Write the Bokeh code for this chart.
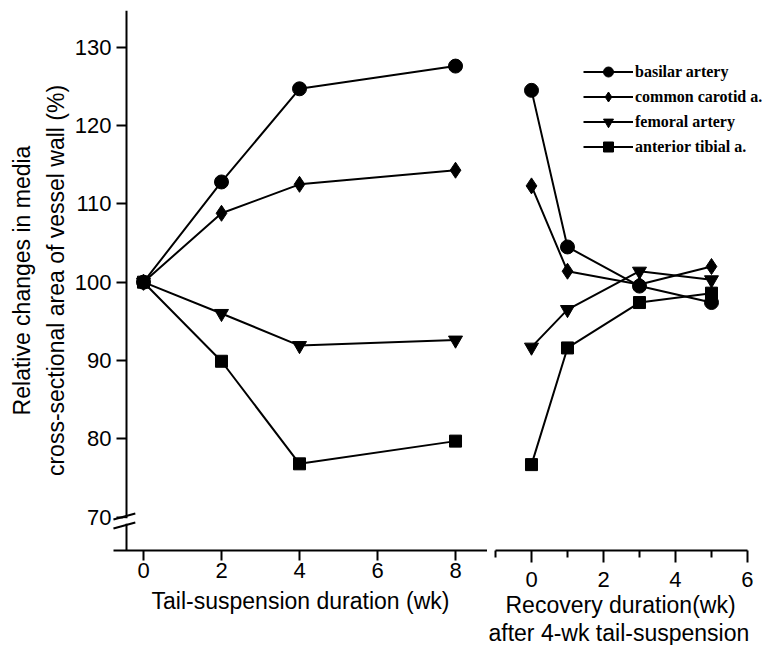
from bokeh.plotting import figure
from bokeh.models import Range1d, FixedTicker, Title, Legend, LegendItem, LinearAxis
from bokeh.layouts import row
from bokeh.embed import file_html
from bokeh.resources import INLINE

# ---------------- data ----------------
SERIES = ["basilar artery", "common carotid a.", "femoral artery", "anterior tibial a."]
MARKERS = ["circle", "diamond", "inverted_triangle", "square"]
MARKER_SIZES = [14, 16, 14, 12]

SUSP_WEEKS = [0, 2, 4, 8]
basilar_susp = [100, 112.8, 124.7, 127.6]
carotid_susp = [100, 108.8, 112.5, 114.3]
femoral_susp = [100, 96.0, 91.9, 92.6]
tibial_susp = [100, 89.9, 76.8, 79.7]

RECOV_WEEKS = [0, 1, 3, 5]
basilar_recov = [124.5, 104.5, 99.5, 97.4]
carotid_recov = [112.3, 101.4, 99.7, 102.0]
femoral_recov = [91.7, 96.5, 101.4, 100.3]
tibial_recov = [76.7, 91.6, 97.4, 98.6]

Y_TICKS = [70, 80, 90, 100, 110, 120, 130]
SUSP_TICKS = [0, 2, 4, 6, 8]
RECOV_TICKS = [0, 2, 4, 6]
RECOV_MINOR = [-1, 1, 3, 5]

# axis-break decoration (value space)
BREAK_X0 = [-0.77, -0.77]
BREAK_X1 = [-0.21, -0.21]
BREAK_Y0 = [69.69, 68.54]
BREAK_Y1 = [70.46, 69.31]

susp_series = [basilar_susp, carotid_susp, femoral_susp, tibial_susp]
recov_series = [basilar_recov, carotid_recov, femoral_recov, tibial_recov]

SANS = "Liberation Sans"
TITLE_SIZE = "23px"
yr = Range1d(65.73, 134.7)


def style_xaxis(ax, ticks, minor, tick_out, minor_out, standoff, label_standoff):
    ax.ticker = FixedTicker(ticks=ticks, minor_ticks=minor)
    ax.axis_line_width = 2
    ax.axis_line_color = "black"
    ax.major_tick_line_width = 2
    ax.major_tick_line_color = "black"
    ax.minor_tick_line_width = 2
    ax.minor_tick_line_color = "black"
    ax.major_tick_in = 0
    ax.major_tick_out = tick_out
    ax.minor_tick_in = 0
    ax.minor_tick_out = minor_out
    ax.major_label_text_font = SANS
    ax.major_label_text_font_size = "22px"
    ax.major_label_text_color = "black"
    ax.major_label_standoff = standoff
    ax.axis_label_text_font = SANS
    ax.axis_label_text_font_size = TITLE_SIZE
    ax.axis_label_text_font_style = "normal"
    ax.axis_label_text_color = "black"
    ax.axis_label_standoff = label_standoff


def side_title(text, standoff, align="center", offset=0):
    return Title(text=text, align=align, text_font=SANS, text_font_size=TITLE_SIZE,
                 text_font_style="normal", text_color="black",
                 standoff=standoff, offset=offset)


# ---------------- left panel ----------------
p1 = figure(frame_width=374, frame_height=540,
            x_range=Range1d(-0.769, 8.82), y_range=yr,
            output_backend="svg", toolbar_location=None,
            min_border_left=113, min_border_right=0,
            min_border_top=10, min_border_bottom=0)
p1.outline_line_color = None
p1.grid.visible = False
p1.background_fill_color = "white"
p1.border_fill_color = "white"

style_xaxis(p1.xaxis[0], SUSP_TICKS, [], 10, 0, 2, 7)
p1.xaxis.axis_label = "Tail-suspension duration (wk)"

# labels-only y axis at the frame edge
ya = p1.yaxis[0]
ya.ticker = FixedTicker(ticks=Y_TICKS, minor_ticks=[])
ya.axis_line_color = None
ya.major_tick_line_color = None
ya.minor_tick_line_color = None
ya.major_tick_in = 0
ya.major_tick_out = 0
ya.minor_tick_out = 0
ya.major_label_text_font = SANS
ya.major_label_text_font_size = "22px"
ya.major_label_text_color = "black"
ya.major_label_standoff = 2

# axis line + ticks at the position of the original axis (no labels)
yline = LinearAxis(ticker=FixedTicker(ticks=Y_TICKS, minor_ticks=[]),
                   fixed_location=-0.44,
                   axis_line_width=2, axis_line_color="black",
                   major_tick_line_width=2, major_tick_line_color="black",
                   major_tick_in=0, major_tick_out=10, minor_tick_out=0,
                   major_label_text_color=None, major_label_standoff=0)
p1.add_layout(yline, "left")

p1.add_layout(side_title("cross-sectional area of vessel wall (%)", 6), "left")
p1.add_layout(side_title("Relative changes in media", 6), "left")

for vals, mk, ms in zip(susp_series, MARKERS, MARKER_SIZES):
    p1.line(SUSP_WEEKS, vals, line_color="black", line_width=2)
    p1.scatter(SUSP_WEEKS, vals, marker=mk, size=ms, fill_color="black", line_color="black")

# axis break
p1.quad(left=-0.52, right=-0.36, bottom=69.15, top=69.85,
        fill_color="white", line_color=None, level="overlay")
p1.segment(x0=BREAK_X0, y0=BREAK_Y0, x1=BREAK_X1, y1=BREAK_Y1,
           line_color="black", line_width=2, level="overlay")

# ---------------- right panel ----------------
p2 = figure(frame_width=272, frame_height=540,
            x_range=Range1d(-1, 6.556), y_range=yr,
            y_axis_location=None,
            output_backend="svg", toolbar_location=None,
            min_border_left=8, min_border_right=0,
            min_border_top=10, min_border_bottom=0)
p2.outline_line_color = None
p2.grid.visible = False
p2.background_fill_color = "white"
p2.border_fill_color = "white"

style_xaxis(p2.xaxis[0], RECOV_TICKS, RECOV_MINOR, 12, 7, 9, 0)
p2.xaxis.bounds = (-1, 6)
p2.add_layout(side_title("Recovery duration(wk)", 0, "left", 10), "below")
p2.add_layout(side_title("after 4-wk tail-suspension", 0, "left", -7), "below")

items = []
for name, vals, mk, ms in zip(SERIES, recov_series, MARKERS, MARKER_SIZES):
    lr = p2.line(RECOV_WEEKS, vals, line_color="black", line_width=2)
    sr = p2.scatter(RECOV_WEEKS, vals, marker=mk, size=ms, fill_color="black", line_color="black")
    items.append(LegendItem(label=name, renderers=[lr, sr]))

legend = Legend(items=items, location=(88, 391),
                glyph_width=50, glyph_height=25, spacing=0,
                label_standoff=2, padding=0, margin=0,
                border_line_color=None, background_fill_alpha=0,
                label_text_font="Liberation Serif", label_text_font_style="bold",
                label_text_font_size="16px", label_text_color="black")
p2.add_layout(legend)

layout = row(p1, p2)
open("out.html", "w").write(file_html(layout, INLINE))
